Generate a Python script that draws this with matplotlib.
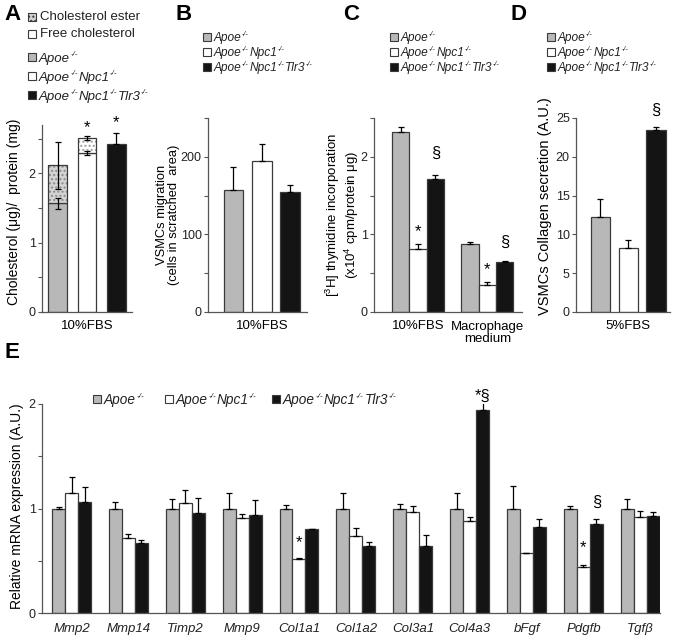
import numpy as np
import matplotlib
matplotlib.use("Agg")
import matplotlib.pyplot as plt
from matplotlib.patches import Rectangle

plt.rcParams['font.family'] = ['Liberation Sans', 'DejaVu Sans']
plt.rcParams['mathtext.fontset'] = 'custom'
plt.rcParams['mathtext.rm'] = 'Liberation Sans'
plt.rcParams['mathtext.it'] = 'Liberation Sans:italic'
plt.rcParams['hatch.linewidth'] = 1.0

# ---------------- data ----------------
genotypes = [['Apoe'], ['Apoe', 'Npc1'], ['Apoe', 'Npc1', 'Tlr3']]  # each gene is -/-

# Panel A: cholesterol (ug / protein mg)
a_free = [1.57, 2.29, 2.42]
a_total = [2.12, 2.51, 2.42]
a_free_err = [0.08, 0.03, 0.0]
a_total_err = [0.34, 0.03, 0.17]

# Panel B: VSMC migration (cells in scratched area)
b_vals = [157, 195, 155]
b_err = [30, 21, 9]

# Panel C: thymidine incorporation
c_conditions = ['10%FBS', 'Macrophage\nmedium']
c_fbs = [2.32, 0.81, 1.71]
c_fbs_err = [0.07, 0.06, 0.06]
c_mac = [0.87, 0.35, 0.64]
c_mac_err = [0.03, 0.04, 0.02]

# Panel D: collagen secretion
d_vals = [12.2, 8.2, 23.5]
d_err = [2.4, 1.1, 0.3]

# Panel E: relative mRNA expression
e_genes = ['Mmp2', 'Mmp14', 'Timp2', 'Mmp9', 'Col1a1', 'Col1a2', 'Col3a1',
           'Col4a3', 'bFgf', 'Pdgfb', 'Tgf\u03b2']
e_apoe = [1.0, 1.0, 1.0, 1.0, 1.0, 1.0, 1.0, 1.0, 1.0, 1.0, 1.0]
e_apoe_err = [0.01, 0.06, 0.09, 0.15, 0.03, 0.15, 0.04, 0.15, 0.22, 0.02, 0.09]
e_npc = [1.15, 0.72, 1.05, 0.91, 0.52, 0.74, 0.97, 0.88, 0.57, 0.44, 0.92]
e_npc_err = [0.15, 0.04, 0.13, 0.04, 0.005, 0.07, 0.05, 0.04, 0.005, 0.02, 0.06]
e_tlr = [1.06, 0.67, 0.96, 0.94, 0.80, 0.64, 0.64, 1.94, 0.82, 0.85, 0.93]
e_tlr_err = [0.15, 0.03, 0.14, 0.14, 0.005, 0.04, 0.11, 0.08, 0.08, 0.05, 0.04]

# ---------------- style ----------------
W, H = 675, 639
GRAY = '#b8b8b8'
BLACK = '#141414'
WHITE = '#ffffff'
EDGE = '#3a3a3a'
SPINE = '#555555'
TXT = '#222222'
fills = [GRAY, WHITE, BLACK]
TICK_FS = 9
LAB_FS = 9.5

fig = plt.figure(figsize=(W / 100, H / 100), dpi=100)
renderer = fig.canvas.get_renderer()


def px(x, y):
    return x / W, 1 - y / H


def add_ax(left, right, top, bottom):
    ax = fig.add_axes([left / W, 1 - bottom / H, (right - left) / W, (bottom - top) / H])
    for s in ['top', 'right']:
        ax.spines[s].set_visible(False)
    for s in ['left', 'bottom']:
        ax.spines[s].set_color(SPINE)
        ax.spines[s].set_linewidth(0.9)
    ax.set_xticks([])
    ax.tick_params(axis='y', length=3, width=0.8, color=SPINE, labelsize=TICK_FS, pad=1.5,
                   labelcolor=TXT)
    return ax


def geno_text(x, yc, idx, fs):
    """Write an italic genotype name with small raised '-/-' after each gene."""
    fpx = fs * 100 / 72
    base = yc + 0.36 * fpx
    for gene in genotypes[idx]:
        t = fig.text(*px(x, base), gene, fontsize=fs, style='italic', va='baseline',
                     ha='left', color=TXT)
        x += t.get_window_extent(renderer).width + 0.3
        s = fig.text(*px(x, base - 0.42 * fpx), '-/-', fontsize=fs * 0.6, style='italic',
                     va='baseline', ha='left', color=TXT)
        x += s.get_window_extent(renderer).width + 0.6
    return x


def legend_rows(x, ys, size, fs):
    for i, y in enumerate(ys):
        fx, fy = px(x, y + size / 2)
        r = Rectangle((fx, fy), size / W, size / H, transform=fig.transFigure,
                      facecolor=fills[i], edgecolor=EDGE, linewidth=0.8)
        fig.patches.append(r)
        geno_text(x + size + 3, y, i, fs)


def errbar(ax, x, y, up, down=0.0, cap=2.5):
    ax.errorbar([x], [y], yerr=[[down], [up]], fmt='none', ecolor='black',
                elinewidth=0.9, capsize=cap, capthick=0.9, zorder=5)


def panel_letter(x, y, s):
    fx, fy = px(x, y)
    fig.text(fx, fy, s, fontsize=16, fontweight='bold', va='center', ha='left')


# ---------------- Panel A ----------------
axA = add_ax(42, 132, 125, 312)
axA.set_xlim(-0.53, 2.53)
axA.set_ylim(0, 2.7)
axA.set_yticks([0, 0.5, 1, 1.5, 2, 2.5])
axA.set_yticklabels(['0', '', '1', '', '2', ''])
xa = np.arange(3)
wa = 0.62
ester_face = ['#d4d4d4', WHITE, BLACK]
ester_hatch = ['#8c8c8c', '#a0a0a0', BLACK]
for i in range(3):
    axA.bar(xa[i], a_free[i], width=wa, color=fills[i], edgecolor=EDGE, linewidth=0.9, zorder=2)
    est = a_total[i] - a_free[i]
    if est > 0:
        axA.bar(xa[i], est, bottom=a_free[i], width=wa, color=ester_face[i],
                edgecolor=ester_hatch[i], hatch='....', linewidth=0, zorder=2)
        axA.bar(xa[i], est, bottom=a_free[i], width=wa, fill=False,
                edgecolor=EDGE, linewidth=0.9, zorder=3)
    if a_total_err[i] > 0:
        down = a_total_err[i] if i < 2 else 0.0
        errbar(axA, xa[i], a_total[i], a_total_err[i], down)
    if a_free_err[i] > 0:
        errbar(axA, xa[i], a_free[i], a_free_err[i], a_free_err[i])
axA.text(1, 2.66, '*', ha='center', va='center', fontsize=12, clip_on=False)
axA.text(2, 2.73, '*', ha='center', va='center', fontsize=12, clip_on=False)
fig.text(*px(14, 212), 'Cholesterol (\u03bcg)/  protein (mg)', rotation=90,
         ha='center', va='center', fontsize=10)
fig.text(*px(87, 326), '10%FBS', ha='center', va='center', fontsize=LAB_FS)

# A legend
panel_letter(4, 15, 'A')
for k, (lab, yy) in enumerate([('Cholesterol ester', 17), ('Free cholesterol', 34)]):
    fx, fy = px(28, yy + 4)
    r = Rectangle((fx, fy), 8 / W, 8 / H, transform=fig.transFigure,
                  facecolor='#d4d4d4' if k == 0 else WHITE, edgecolor=EDGE,
                  hatch='....' if k == 0 else None, linewidth=0.8)
    fig.patches.append(r)
    fig.text(*px(40, yy), lab, fontsize=9.5, va='center', ha='left', color=TXT)
legend_rows(28, [57, 76, 95], 8, 9.5)

# ---------------- Panel B ----------------
axB = add_ax(208, 307, 118, 312)
axB.set_xlim(-0.9, 2.6)
axB.set_ylim(0, 250)
axB.set_yticks([0, 50, 100, 150, 200, 250])
axB.set_yticklabels(['0', '', '100', '', '200', ''])
for i in range(3):
    axB.bar(i, b_vals[i], width=0.7, color=fills[i], edgecolor=EDGE, linewidth=0.9, zorder=2)
    errbar(axB, i, b_vals[i], b_err[i])
fig.text(*px(168, 215), 'VSMCs migration\n(cells in scratched  area)', rotation=90,
         ha='center', va='center', fontsize=9.3, linespacing=1.0)
fig.text(*px(262, 326), '10%FBS', ha='center', va='center', fontsize=LAB_FS)
panel_letter(176, 15, 'B')
legend_rows(203, [37, 52, 67], 8, 8.6)

# ---------------- Panel C ----------------
axC = add_ax(374, 522, 118, 312)
axC.set_xlim(-1.53, 7.0)
axC.set_ylim(0, 2.5)
axC.set_yticks([0, 0.5, 1, 1.5, 2, 2.5])
axC.set_yticklabels(['0', '', '1', '', '2', ''])
for gi, (vals, errs) in enumerate([(c_fbs, c_fbs_err), (c_mac, c_mac_err)]):
    for i in range(3):
        xx = gi * 4 + i
        axC.bar(xx, vals[i], width=1.0, color=fills[i], edgecolor=EDGE, linewidth=0.9, zorder=2)
        errbar(axC, xx, vals[i], errs[i])
axC.text(2, 2.05, '\u00a7', ha='center', va='center', fontsize=12)
axC.text(1, 1.04, '*', ha='center', va='center', fontsize=12)
axC.text(6, 0.90, '\u00a7', ha='center', va='center', fontsize=12)
axC.text(5, 0.55, '*', ha='center', va='center', fontsize=12)
fig.text(*px(342, 215), '[$^3$H] thymidine incorporation\n(x10$^4$ cpm/protein \u03bcg)',
         rotation=90, ha='center', va='center', fontsize=9.5, linespacing=1.05)
fig.text(*px(418, 326), c_conditions[0], ha='center', va='center', fontsize=LAB_FS)
fig.text(*px(488, 333), c_conditions[1], ha='center', va='center', fontsize=LAB_FS,
         linespacing=1.05)
panel_letter(343, 15, 'C')
legend_rows(390, [37, 52, 67], 8, 8.6)

# ---------------- Panel D ----------------
axD = add_ax(576, 670, 118, 312)
axD.set_xlim(-0.88, 2.5)
axD.set_ylim(0, 25)
axD.set_yticks([0, 5, 10, 15, 20, 25])
for i in range(3):
    axD.bar(i, d_vals[i], width=0.7, color=fills[i], edgecolor=EDGE, linewidth=0.9, zorder=2)
    errbar(axD, i, d_vals[i], d_err[i])
axD.text(2, 26.0, '\u00a7', ha='center', va='center', fontsize=12, clip_on=False)
fig.text(*px(545, 206), 'VSMCs Collagen secretion (A.U.)', rotation=90,
         ha='center', va='center', fontsize=10.5)
fig.text(*px(628, 326), '5%FBS', ha='center', va='center', fontsize=LAB_FS)
panel_letter(510, 15, 'D')
legend_rows(547, [37, 52, 67], 8, 8.6)

# ---------------- Panel E ----------------
axE = add_ax(42, 660, 404, 613)
axE.set_xlim(-0.52, 10.35)
axE.set_ylim(0, 2)
axE.set_yticks([0, 0.5, 1, 1.5, 2])
axE.set_yticklabels(['0', '', '1', '', '2'])
we = 0.228
xe = np.arange(len(e_genes))
for k, (vals, errs) in enumerate([(e_apoe, e_apoe_err), (e_npc, e_npc_err), (e_tlr, e_tlr_err)]):
    xs = xe + (k - 1) * we
    axE.bar(xs, vals, width=we, color=fills[k], edgecolor=EDGE, linewidth=0.9, zorder=2)
    for x_, v_, e_ in zip(xs, vals, errs):
        errbar(axE, x_, v_, e_, cap=2.5)
for gi, g in enumerate(e_genes):
    fig.text(*px(71.5 + gi * 56.9, 629), g, ha='center', va='center', fontsize=LAB_FS,
             style='italic', color=TXT)
axE.text(4, 0.67, '*', ha='center', va='center', fontsize=12)
axE.text(7 + we, 2.07, '*\u00a7', ha='center', va='center', fontsize=12, clip_on=False)
axE.text(9, 0.63, '*', ha='center', va='center', fontsize=12)
axE.text(9 + we, 1.06, '\u00a7', ha='center', va='center', fontsize=12)
fig.text(*px(17, 506), 'Relative mRNA expression (A.U.)', rotation=90,
         ha='center', va='center', fontsize=10)
panel_letter(4, 352, 'E')
# E legend (horizontal)
for i, xx in enumerate([93, 165, 272]):
    fx, fy = px(xx, 399 + 4)
    r = Rectangle((fx, fy), 8 / W, 8 / H, transform=fig.transFigure,
                  facecolor=fills[i], edgecolor=EDGE, linewidth=0.8)
    fig.patches.append(r)
    geno_text(xx + 11, 399, i, 9.8)

fig.savefig('out.png', dpi=100)
